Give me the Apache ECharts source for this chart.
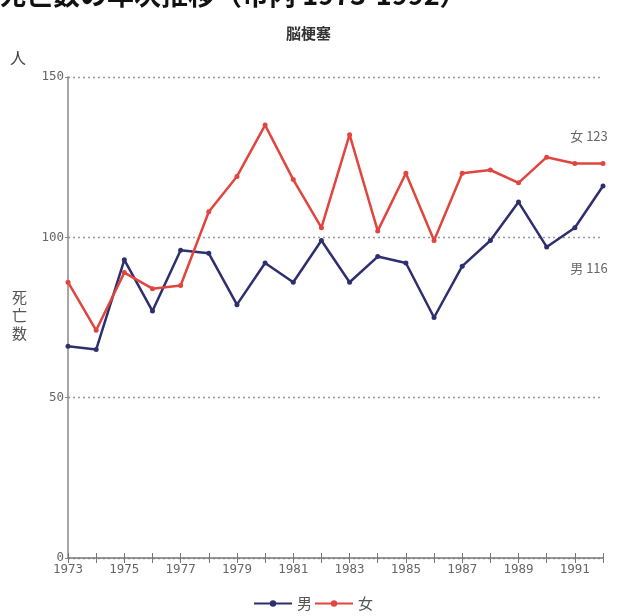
<!DOCTYPE html>
<html>
  <head>
    <meta charset="utf-8" />
    <title>脳梗塞 死亡数の年次推移</title>
    <script src="https://cdn.jsdelivr.net/npm/echarts@6/dist/echarts.min.js"></script>
    <style>
      body {
        margin: 0;
        background: #fff;
      }
      #main {
        width: 617px;
        height: 616px;
      }
    </style>
  </head>
  <body>
    <div id="main"></div>
    <script type="text/javascript">
      // 年次と死亡数
      var years = [];
      for (var y = 1973; y <= 1992; y++) years.push(String(y));
      var male = [66, 65, 93, 77, 96, 95, 79, 92, 86, 99, 86, 94, 92, 75, 91, 99, 111, 97, 103, 116];
      var female = [86, 71, 89, 84, 85, 108, 119, 135, 118, 103, 132, 102, 120, 99, 120, 121, 117, 125, 123, 123];
      var yTicks = [0, 50, 100, 150];

      var jp = '"Noto Sans CJK JP", sans-serif';
      var mono = '"DejaVu Sans Mono", monospace';

      // 最終年だけラベルを付ける
      function withEndLabel(values, name, pos, offset) {
        return values.map(function (v, i) {
          if (i !== values.length - 1) return v;
          return {
            value: v,
            label: {
              show: true,
              position: pos,
              offset: offset,
              formatter: name + " {c}",
              color: "#666",
              fontFamily: jp,
              fontSize: 13,
            },
          };
        });
      }

      var myChart = echarts.init(document.getElementById("main"));

      var option = {
        animation: false,
        backgroundColor: "#fff",
        title: [
          {
            text: "死亡数の年次推移（市内 1973-1992）",
            left: -6,
            top: -24,
            textStyle: { fontFamily: jp, fontSize: 27, fontWeight: "bold", color: "#111" },
          },
          {
            text: "脳梗塞",
            left: "center",
            top: 21,
            textStyle: { fontFamily: jp, fontSize: 15, fontWeight: "bold", color: "#333" },
          },
        ],
        graphic: [
          { type: "text", left: 10, top: 50, style: { text: "人", font: "16px " + jp, fill: "#444" } },
          {
            type: "text",
            left: 12,
            top: 288,
            style: { text: "死\n亡\n数", font: "15px " + jp, fill: "#555", lineHeight: 18 },
          },
        ],
        legend: {
          bottom: 0,
          left: 248,
          itemWidth: 38,
          itemHeight: 8,
          itemGap: 2,
          textStyle: { fontFamily: jp, fontSize: 15, color: "#555" },
          data: ["男", "女"],
        },
        grid: { left: 68, right: 14, top: 77, bottom: 58 },
        xAxis: [
          {
            type: "category",
            data: years,
            boundaryGap: false,
            position: "bottom",
            axisLine: { lineStyle: { color: "#777", width: 1.5 } },
            axisTick: { interval: 0, length: 5, lineStyle: { color: "#777" } },
            axisLabel: { interval: 1, color: "#666", fontFamily: mono, fontSize: 12.5, margin: 5 },
          },
          {
            type: "category",
            data: years,
            boundaryGap: false,
            position: "bottom",
            axisLine: { show: false },
            axisTick: { show: true, interval: 0, inside: true, length: 5, lineStyle: { color: "#777" } },
            axisLabel: { show: false },
          },
        ],
        yAxis: {
          type: "value",
          min: yTicks[0],
          max: yTicks[yTicks.length - 1],
          interval: 50,
          axisLine: { show: true, lineStyle: { color: "#888", width: 1.5 } },
          axisTick: { show: true, length: 3, lineStyle: { color: "#888" } },
          axisLabel: { color: "#666", fontFamily: mono, fontSize: 12.5, margin: 4 },
          splitLine: { lineStyle: { color: "#999", type: [2, 3], width: 1.3 } },
        },
        series: [
          {
            name: "男",
            type: "line",
            data: withEndLabel(male, "男", "bottom", [-14, 68]),
            symbol: "circle",
            symbolSize: 5,
            color: "#2d2f6e",
            lineStyle: { width: 2.5 },
          },
          {
            name: "女",
            type: "line",
            data: withEndLabel(female, "女", "top", [-14, -14]),
            symbol: "circle",
            symbolSize: 5,
            color: "#e0453e",
            lineStyle: { width: 2.5 },
          },
        ],
      };

      myChart.setOption(option);
    </script>
  </body>
</html>
